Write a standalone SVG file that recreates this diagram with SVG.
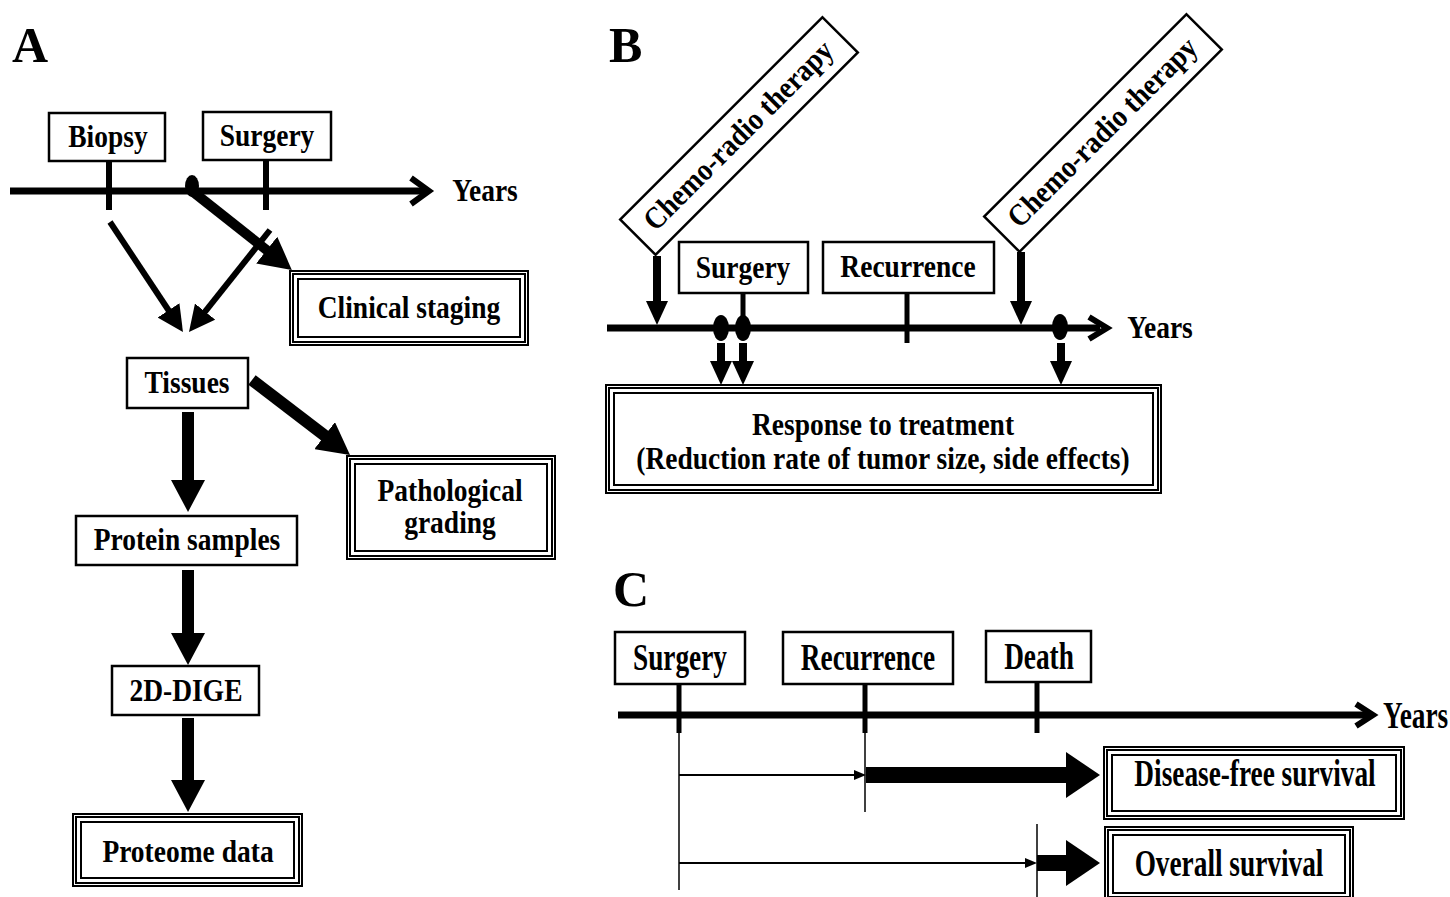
<svg xmlns="http://www.w3.org/2000/svg" width="1450" height="897" viewBox="0 0 1450 897">
<style>
.bx{fill:#fff;stroke:#000;stroke-width:2.5}
.to{fill:#fff;stroke:#000;stroke-width:5}
.tw{fill:none;stroke:#fff;stroke-width:1}
.ti{fill:none;stroke:#000;stroke-width:2}
.t{font-family:"Liberation Serif","Times New Roman",serif;font-weight:bold;font-size:27.5px;text-anchor:middle;fill:#000}
.tc{font-size:27.3px}
.lbl{font-family:"Liberation Serif","Times New Roman",serif;font-weight:bold;font-size:50px;fill:#000}
.ln{stroke:#000;fill:none}
</style>
<defs>
<marker id="mS" markerUnits="userSpaceOnUse" markerWidth="26" markerHeight="26" refX="2" refY="13" orient="auto"><path d="M0,0 L26,13 L0,26 z"/></marker>
<marker id="mL" markerUnits="userSpaceOnUse" markerWidth="32" markerHeight="34" refX="2" refY="17" orient="auto"><path d="M0,0 L32,17 L0,34 z"/></marker>
<marker id="mB" markerUnits="userSpaceOnUse" markerWidth="24" markerHeight="22" refX="2" refY="11" orient="auto"><path d="M0,0 L24,11 L0,22 z"/></marker>
<marker id="mC" markerUnits="userSpaceOnUse" markerWidth="34" markerHeight="46" refX="2" refY="23" orient="auto"><path d="M0,0 L34,23 L0,46 z"/></marker>
<marker id="mT" markerUnits="userSpaceOnUse" markerWidth="12" markerHeight="10" refX="2" refY="5" orient="auto"><path d="M0,0 L12,5 L0,10 z"/></marker>
</defs>

<text class="lbl" x="12" y="62">A</text>
<text class="lbl" x="609" y="62">B</text>
<text class="lbl" x="613" y="606">C</text>

<g id="connectors">
<!-- Panel A timeline -->
<line class="ln" x1="10" y1="191" x2="428" y2="191" stroke-width="7"/>
<polyline class="ln" points="411,178 429,191 411,204" stroke-width="6"/>
<line class="ln" x1="109" y1="161" x2="109" y2="210" stroke-width="6"/>
<line class="ln" x1="266" y1="160" x2="266" y2="210" stroke-width="6"/>
<ellipse cx="192" cy="186" rx="7" ry="11" fill="#000"/>
<line class="ln" x1="192" y1="191" x2="268.3" y2="251.3" stroke-width="10" marker-end="url(#mL)"/>
<line class="ln" x1="110" y1="222" x2="169.7" y2="312" stroke-width="6" marker-end="url(#mS)"/>
<line class="ln" x1="270" y1="230" x2="203.9" y2="313.2" stroke-width="6" marker-end="url(#mS)"/>
<line class="ln" x1="252" y1="380" x2="326.2" y2="436.8" stroke-width="12" marker-end="url(#mL)"/>
<line class="ln" x1="188" y1="412" x2="188" y2="482" stroke-width="12" marker-end="url(#mL)"/>
<line class="ln" x1="188" y1="570" x2="188" y2="635" stroke-width="12" marker-end="url(#mL)"/>
<line class="ln" x1="188" y1="718" x2="188" y2="782" stroke-width="12" marker-end="url(#mL)"/>

<!-- Panel B -->
<line class="ln" x1="607" y1="328" x2="1100" y2="328" stroke-width="7"/>
<polyline class="ln" points="1089,317 1107,328 1089,339" stroke-width="6"/>
<line class="ln" x1="743" y1="293" x2="743" y2="328" stroke-width="5"/>
<line class="ln" x1="907" y1="293" x2="907" y2="343" stroke-width="5"/>
<ellipse cx="721" cy="328" rx="8" ry="13" fill="#000"/>
<ellipse cx="743" cy="328" rx="8" ry="13" fill="#000"/>
<ellipse cx="1060" cy="327" rx="8" ry="13" fill="#000"/>
<line class="ln" x1="657" y1="256" x2="657" y2="303" stroke-width="8" marker-end="url(#mB)"/>
<line class="ln" x1="1021" y1="252" x2="1021" y2="303" stroke-width="8" marker-end="url(#mB)"/>
<line class="ln" x1="721" y1="343" x2="721" y2="363" stroke-width="8" marker-end="url(#mB)"/>
<line class="ln" x1="743" y1="343" x2="743" y2="363" stroke-width="8" marker-end="url(#mB)"/>
<line class="ln" x1="1061" y1="343" x2="1061" y2="363" stroke-width="8" marker-end="url(#mB)"/>

<!-- Panel C -->
<line class="ln" x1="618" y1="715" x2="1368" y2="715" stroke-width="7"/>
<polyline class="ln" points="1356,704 1373,715 1356,726" stroke-width="6"/>
<line class="ln" x1="679" y1="684" x2="679" y2="733" stroke-width="5"/>
<line class="ln" x1="865" y1="684" x2="865" y2="733" stroke-width="5"/>
<line class="ln" x1="1037" y1="682" x2="1037" y2="733" stroke-width="5"/>
<line class="ln" x1="679" y1="733" x2="679" y2="890" stroke-width="1.5"/>
<line class="ln" x1="865" y1="733" x2="865" y2="812" stroke-width="1.5"/>
<line class="ln" x1="1037" y1="824" x2="1037" y2="897" stroke-width="1.5"/>
<line class="ln" x1="679" y1="775" x2="856" y2="775" stroke-width="2" marker-end="url(#mT)"/>
<line class="ln" x1="866" y1="775" x2="1068" y2="775" stroke-width="16" marker-end="url(#mC)"/>
<line class="ln" x1="679" y1="863" x2="1027" y2="863" stroke-width="2" marker-end="url(#mT)"/>
<line class="ln" x1="1037" y1="863" x2="1068" y2="863" stroke-width="16" marker-end="url(#mC)"/>
</g>

<!-- Panel A nodes -->
<g id="a-biopsy"><rect class="bx" x="49" y="113" width="116" height="48"/><text class="t" transform="translate(108,147) scale(1,1.12)">Biopsy</text></g>
<g id="a-surgery"><rect class="bx" x="203" y="112" width="128" height="48"/><text class="t" transform="translate(267,146) scale(1,1.12)">Surgery</text></g>
<text class="t" transform="translate(485,201) scale(1,1.12)">Years</text>
<g id="a-clinical"><rect class="to" x="291.5" y="272.5" width="235" height="71"/><rect class="tw" x="291.5" y="272.5" width="235" height="71"/><rect class="ti" x="298" y="279" width="222" height="58"/><text class="t" transform="translate(409,318) scale(1,1.12)">Clinical staging</text></g>
<g id="a-tissues"><rect class="bx" x="127" y="358" width="121" height="50"/><text class="t" transform="translate(187,393) scale(1,1.12)">Tissues</text></g>
<g id="a-path"><rect class="to" x="348.5" y="457.5" width="205" height="100"/><rect class="tw" x="348.5" y="457.5" width="205" height="100"/><rect class="ti" x="355" y="464" width="192" height="87"/><text class="t" transform="translate(450,501) scale(1,1.12)">Pathological</text><text class="t" transform="translate(450,533) scale(1,1.12)">grading</text></g>
<g id="a-protein"><rect class="bx" x="76" y="516" width="221" height="49"/><text class="t" transform="translate(187,550) scale(1,1.12)">Protein samples</text></g>
<g id="a-dige"><rect class="bx" x="112" y="666" width="147" height="49"/><text class="t" transform="translate(186,701) scale(1,1.12)">2D-DIGE</text></g>
<g id="a-proteome"><rect class="to" x="74.5" y="815.5" width="226" height="69"/><rect class="tw" x="74.5" y="815.5" width="226" height="69"/><rect class="ti" x="81" y="822" width="213" height="56"/><text class="t" transform="translate(188,862) scale(1,1.12)">Proteome data</text></g>

<!-- Panel B nodes -->
<g id="b-chemo1" transform="translate(739,136) rotate(-45)"><rect class="bx" x="-143" y="-25" width="286" height="50"/><text class="t" transform="translate(0,9) scale(1,1.12)">Chemo-radio therapy</text></g>
<g id="b-chemo2" transform="translate(1103,133) rotate(-45)"><rect class="bx" x="-143" y="-25" width="286" height="50"/><text class="t" transform="translate(0,9) scale(1,1.12)">Chemo-radio therapy</text></g>
<g id="b-surgery"><rect class="bx" x="679" y="242" width="129" height="51"/><text class="t" transform="translate(743,278) scale(1,1.12)">Surgery</text></g>
<g id="b-recurrence"><rect class="bx" x="823" y="242" width="171" height="51"/><text class="t" transform="translate(908,277) scale(1,1.12)">Recurrence</text></g>
<text class="t" transform="translate(1160,338) scale(1,1.12)">Years</text>
<g id="b-response"><rect class="to" x="607.5" y="386.5" width="552" height="105"/><rect class="tw" x="607.5" y="386.5" width="552" height="105"/><rect class="ti" x="614" y="393" width="539" height="92"/><text class="t" transform="translate(883,435) scale(1,1.12)">Response to treatment</text><text class="t" transform="translate(883,469) scale(1,1.12)">(Reduction rate of tumor size, side effects)</text></g>

<!-- Panel C nodes -->
<g id="c-surgery"><rect class="bx" x="615" y="632" width="130" height="52"/><text class="t tc" transform="translate(680,670) scale(1,1.35)">Surgery</text></g>
<g id="c-recurrence"><rect class="bx" x="783" y="632" width="170" height="52"/><text class="t tc" transform="translate(868,670) scale(1,1.35)">Recurrence</text></g>
<g id="c-death"><rect class="bx" x="986" y="631" width="105" height="51"/><text class="t tc" transform="translate(1039,669) scale(1,1.35)">Death</text></g>
<text class="t tc" style="text-anchor:start" transform="translate(1383,728) scale(1,1.35)">Years</text>
<g id="c-dfs"><rect class="to" x="1105.5" y="748.5" width="297" height="69"/><rect class="tw" x="1105.5" y="748.5" width="297" height="69"/><rect class="ti" x="1112" y="755" width="284" height="56"/><text class="t tc" transform="translate(1255,786) scale(1,1.35)">Disease-free survival</text></g>
<g id="c-os"><rect class="to" x="1106.5" y="828.5" width="245" height="70"/><rect class="tw" x="1106.5" y="828.5" width="245" height="70"/><rect class="ti" x="1113" y="835" width="232" height="58"/><text class="t tc" transform="translate(1229,876) scale(1,1.35)">Overall survival</text></g>
</svg>
